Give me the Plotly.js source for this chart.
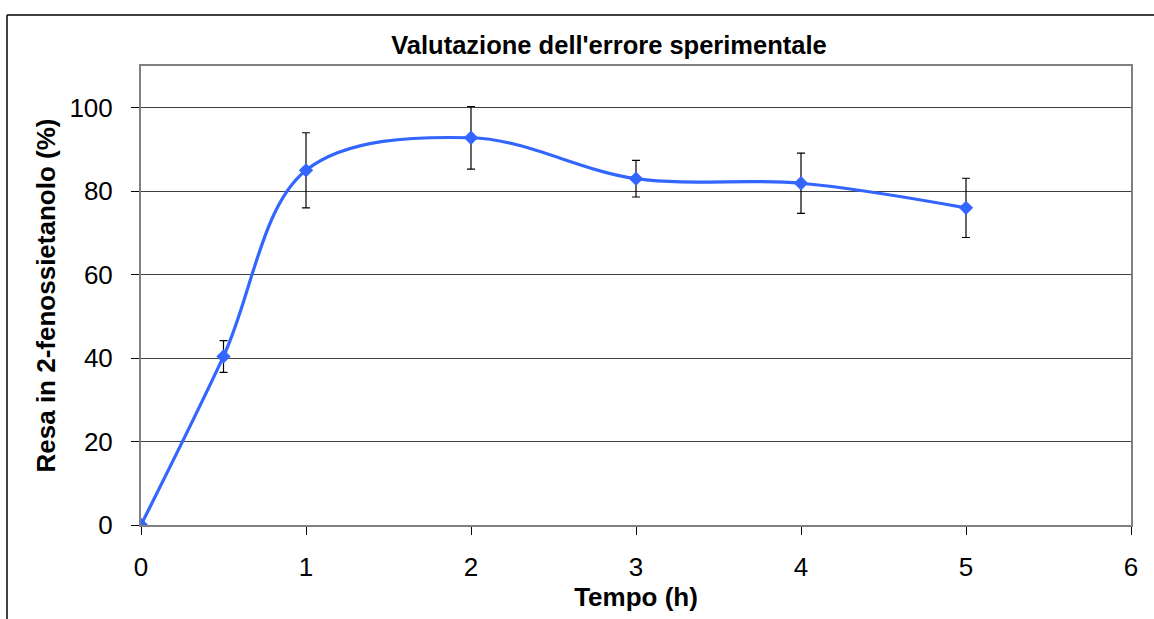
<!DOCTYPE html>
<html>
<head>
<meta charset="utf-8">
<script src="https://cdn.plot.ly/plotly-3.0.1.min.js"></script>
<style>
html,body{margin:0;padding:0;background:#fff;}
#chart{width:1154px;height:619px;}
</style>
</head>
<body>
<div id="chart"></div>
<script>
var tempo = [0, 0.5, 1, 2, 3, 4, 5];
var resa = [0, 40.4, 85, 92.8, 83, 81.9, 76];
var errore = [0, 3.8, 9, 7.5, 4.4, 7.2, 7.1];
var xTicks = [0, 1, 2, 3, 4, 5, 6];
var yTicks = [0, 20, 40, 60, 80, 100];

var trace = {
  x: tempo,
  y: resa,
  type: 'scatter',
  mode: 'lines+markers',
  line: {color: '#3366FF', width: 3.2, shape: 'spline', smoothing: 1},
  marker: {symbol: 'diamond', size: 11, color: '#3366FF'},
  error_y: {type: 'data', array: errore, visible: true, color: '#000000', thickness: 1.2, width: 4},
  showlegend: false,
  hoverinfo: 'x+y'
};

var layout = {
  width: 1154,
  height: 619,
  margin: {l: 141, r: 23, t: 66, b: 94},
  paper_bgcolor: '#ffffff',
  plot_bgcolor: '#ffffff',
  font: {family: 'Liberation Sans, Arial, sans-serif', color: '#000000', size: 24},
  title: {
    text: "<b>Valutazione dell'errore sperimentale</b>",
    font: {family: 'Liberation Sans, Arial, sans-serif', size: 25.5, color: '#000'},
    xref: 'container', x: 609/1154, xanchor: 'center',
    yref: 'container', y: 1 - 45/619, yanchor: 'middle'
  },
  xaxis: {
    range: [0, 6],
    tickvals: xTicks,
    ticktext: xTicks.map(String),
    ticks: 'outside', ticklen: 8, tickcolor: '#000', tickwidth: 1,
    ticklabelstandoff: 10,
    showgrid: false,
    zeroline: false,
    showline: true, linecolor: '#808080', linewidth: 2, mirror: true,
    tickfont: {size: 26},
    title: {text: '<b>Tempo (h)</b>', font: {size: 26}, standoff: 4}
  },
  yaxis: {
    range: [0, 110],
    tickvals: yTicks,
    ticktext: yTicks.map(String),
    ticks: 'outside', ticklen: 8, tickcolor: '#000', tickwidth: 1,
    ticklabelstandoff: 13,
    showgrid: true, gridcolor: '#404040', gridwidth: 1,
    zeroline: false,
    showline: true, linecolor: '#808080', linewidth: 2, mirror: true,
    tickfont: {size: 26},
    title: {text: '<b>Resa in 2-fenossietanolo (%)</b>', font: {size: 26}, standoff: 6}
  },
  shapes: [
    {type: 'line', xref: 'paper', yref: 'paper', x0: -134/990, x1: 1.05, y0: (619-94-15)/459, y1: (619-94-15)/459,
     line: {color: '#000', width: 1.5}},
    {type: 'line', xref: 'paper', yref: 'paper', x0: -134/990, x1: -134/990, y0: -0.3, y1: (619-94-15)/459,
     line: {color: '#000', width: 1.5}}
  ]
};

Plotly.newPlot('chart', [trace], layout, {displayModeBar: false, staticPlot: true});
</script>
</body>
</html>
